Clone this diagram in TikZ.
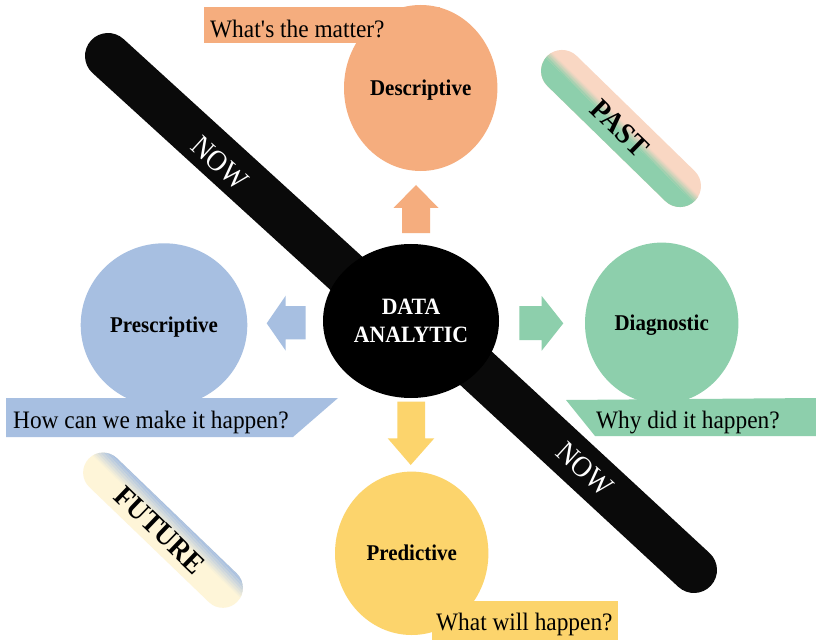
\documentclass[tikz,border=0pt]{standalone}
\usepackage{fontspec}
\setmainfont{Liberation Serif}[FakeStretch=0.93]
\usetikzlibrary{shapes.geometric}
\definecolor{descC}{HTML}{F5AD7E}
\definecolor{presC}{HTML}{A7BFE1}
\definecolor{diagC}{HTML}{8DCFAC}
\definecolor{predC}{HTML}{FCD46C}
\definecolor{pastC}{HTML}{F9D7C3}
\definecolor{futC}{HTML}{FEF5D8}
\definecolor{barC}{HTML}{0A0A0A}
\begin{document}
\begin{tikzpicture}[x=1bp,y=-1bp,line join=round,
 bubble/.style={ellipse,inner sep=0pt,text height=15bp,text depth=0pt,font=\bfseries\fontsize{22.6}{27}\selectfont},
 ask/.style={inner sep=0pt,anchor=base west,font=\fontsize{25.2}{30}\selectfont},
 tag/.style={inner sep=0pt,text height=19.5bp,text depth=0pt,font=\fontsize{29.5}{34}\selectfont}]
 \def\barw{46bp}
 \useasboundingbox[fill=white] (0,0) rectangle (816,640);
 % the two NOW bars
 \draw[barC,line width=\barw,line cap=round] (108,56)--(380,304) (440,335)--(694,570);
 % question labels
 \fill[descC] (204,7) rectangle (440,43);
 \fill[presC] (6,398)--(338,398)--(293,437)--(6,437)--cycle;
 \fill[diagC] (566,400)--(816,398)--(816,436)--(595,436)--cycle;
 \fill[predC] (432,601) rectangle (618,640);
 \node[bubble,fill=descC,minimum width=153.4bp,minimum height=166bp] (desc) at (420.7,88) {Descriptive};
 \node[bubble,fill=presC,minimum width=166.6bp,minimum height=163.4bp] (pres) at (164,325) {Prescriptive};
 \node[bubble,fill=diagC,minimum width=153.4bp,minimum height=161.4bp] (diag) at (661.7,323.3) {Diagnostic};
 \node[bubble,fill=predC,minimum width=153.4bp,minimum height=163.4bp] (pred) at (411.7,553.3) {Predictive};
 \node[ask] (q1) at (210,37.3) {What\textquotesingle s the matter?};
 \node[ask] (q2) at (13,428.3) {How can we make it happen?};
 \node[ask] (q3) at (596,428.3) {Why did it happen?};
 \node[ask] (q4) at (436,630.7) {What will happen?};
 % centre
 \node[ellipse,fill=black,text=white,inner sep=0pt,minimum width=176bp,minimum height=154bp,align=center,
  font=\bfseries\fontsize{23.5}{28.6}\selectfont] (core) at (411,321) {DATA\\ANALYTIC};
 % block arrows
 \fill[descC] (416,185)--(438.5,208)--(430,208)--(430,233)--(402,233)--(402,208)--(393.5,208)--cycle;
 \fill[presC] (266.7,323.3)--(285.7,295.7)--(285.7,306)--(305.7,306)--(305.7,339.3)--(285.7,339.3)--(285.7,350.7)--cycle;
 \fill[diagC] (563.3,323.3)--(541.7,296)--(541.7,306)--(519.3,306)--(519.3,340)--(541.7,340)--(541.7,350.7)--cycle;
 \fill[predC] (410.7,465)--(434.3,438.3)--(425,438.3)--(425,401.7)--(397.3,401.7)--(397.3,438.3)--(387.7,438.3)--cycle;
 % PAST pill
 \begin{scope}[shift={(621,128.5)},rotate=-44.3]
  \clip[rounded corners=21bp] (-103.4,-21) rectangle (103.4,21);
  \fill[pastC] (-110,-25) rectangle (110,25);
  \fill[diagC] (-110,2) rectangle (110,25);
  \foreach \k [evaluate=\k as \p using 12.5*\k-6.25] in {1,...,8}
   \fill[diagC!\p!pastC] (-110,\k-7) rectangle (110,\k-6);
 \end{scope}
 % FUTURE pill
 \begin{scope}[shift={(163,530.2)},rotate=-43.9]
  \clip[rounded corners=20bp] (-103.1,-20) rectangle (103.1,20);
  \fill[futC] (-110,-25) rectangle (110,25);
  \fill[presC] (-110,-25) rectangle (110,-19);
  \foreach \k [evaluate=\k as \p using 106-7*\k] in {1,...,14}
   \fill[presC!\p!futC] (-110,\k-20) rectangle (110,\k-19);
 \end{scope}
 \node[tag,font=\fontsize{29.5}{34}\selectfont\bfseries,rotate=-44.3] (past) at (620,128.3) {PAST};
 \node[tag,font=\fontsize{29.5}{34}\selectfont\bfseries,rotate=-43.9] (future) at (160,530) {FUTURE};
 \node[tag,text=white,rotate=-42.4] (now1) at (220,163) {NOW};
 \node[tag,text=white,rotate=-42.4] (now2) at (585,469) {NOW};
\end{tikzpicture}
\end{document}
